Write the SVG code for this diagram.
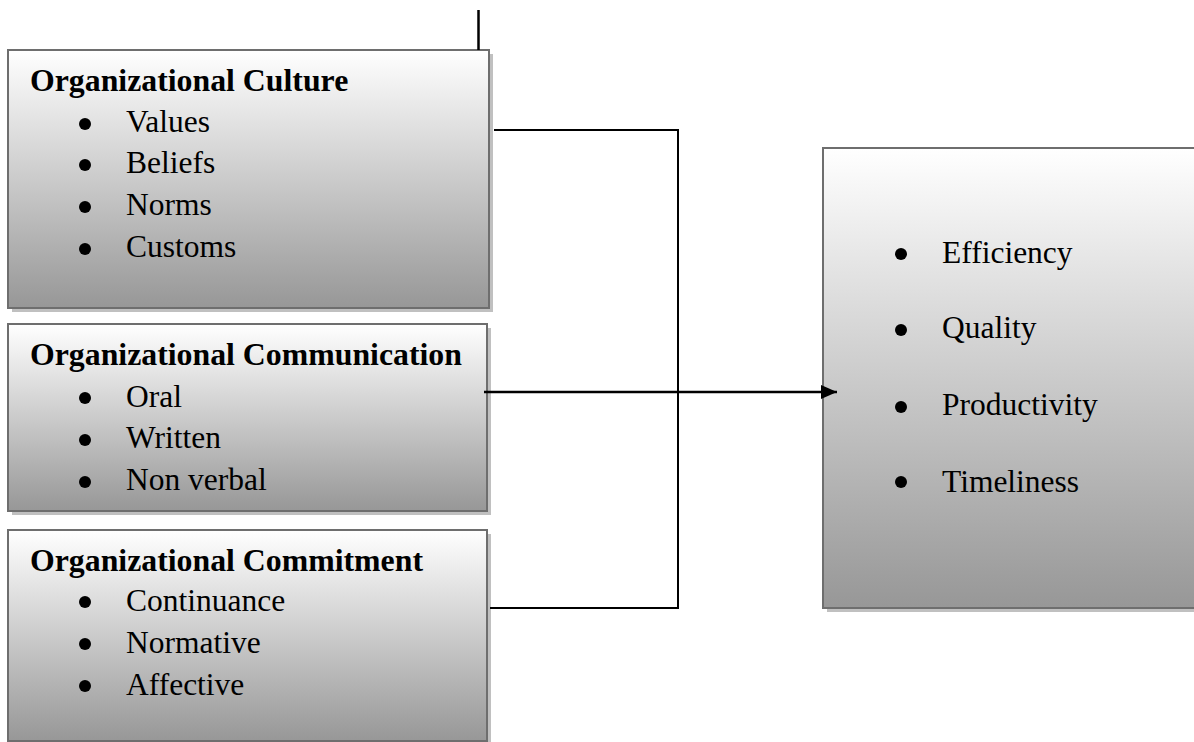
<svg xmlns="http://www.w3.org/2000/svg" width="1194" height="742" viewBox="0 0 1194 742">
<style>
.box{stroke:#6e6e6e;stroke-width:2;fill:url(#g)}
.shadow{fill:#c0c0c0}
.t{font-family:"Liberation Serif","Times New Roman",serif;font-size:31.5px;fill:#000}
.b{font-weight:bold;font-size:31.8px}
.dot{fill:#000}
.line{stroke:#000;stroke-width:2.5;fill:none}
.thin{stroke:#000;stroke-width:2;fill:none}
</style>
<defs>
<linearGradient id="g" x1="0" y1="0" x2="0" y2="1">
<stop offset="0" stop-color="#ffffff"/>
<stop offset="1" stop-color="#979797"/>
</linearGradient>
<marker id="arr" markerWidth="17" markerHeight="14" refX="16" refY="7" orient="auto" markerUnits="userSpaceOnUse">
<path d="M0,0 L16,7 L0,14 Z" fill="#000"/>
</marker>
</defs>
<rect width="1194" height="742" fill="#fff"/>

<g id="node-culture">
<rect class="shadow" x="12" y="54" width="481" height="258"/>
<rect class="box" x="8" y="50" width="481" height="258"/>
<text class="t b" x="30" y="91">Organizational Culture</text>
<circle class="dot" cx="85" cy="124" r="6"/><text class="t" x="126" y="132">Values</text>
<circle class="dot" cx="85" cy="165" r="6"/><text class="t" x="126" y="173">Beliefs</text>
<circle class="dot" cx="85" cy="207" r="6"/><text class="t" x="126" y="215">Norms</text>
<circle class="dot" cx="85" cy="249" r="6"/><text class="t" x="126" y="257">Customs</text>
</g>

<g id="node-communication">
<rect class="shadow" x="12" y="328" width="479" height="187"/>
<rect class="box" x="8" y="324" width="479" height="187"/>
<text class="t b" x="30" y="365">Organizational Communication</text>
<circle class="dot" cx="85" cy="398" r="6"/><text class="t" x="126" y="407">Oral</text>
<circle class="dot" cx="85" cy="440" r="6"/><text class="t" x="126" y="448">Written</text>
<circle class="dot" cx="85" cy="482" r="6"/><text class="t" x="126" y="490">Non verbal</text>
</g>

<g id="node-commitment">
<rect class="shadow" x="12" y="534" width="479" height="212"/>
<rect class="box" x="8" y="530" width="479" height="211"/>
<text class="t b" x="30" y="571">Organizational Commitment</text>
<circle class="dot" cx="85" cy="602" r="6"/><text class="t" x="126" y="611">Continuance</text>
<circle class="dot" cx="85" cy="644" r="6"/><text class="t" x="126" y="653">Normative</text>
<circle class="dot" cx="85" cy="686" r="6"/><text class="t" x="126" y="695">Affective</text>
</g>

<g id="node-performance">
<rect class="shadow" x="827" y="152" width="380" height="460"/>
<rect class="box" x="823" y="148" width="380" height="460"/>
<circle class="dot" cx="901" cy="254" r="6"/><text class="t" x="942" y="263">Efficiency</text>
<circle class="dot" cx="901" cy="330" r="6"/><text class="t" x="942" y="338">Quality</text>
<circle class="dot" cx="901" cy="407" r="6"/><text class="t" x="942" y="415">Productivity</text>
<circle class="dot" cx="901" cy="482" r="6"/><text class="t" x="942" y="492">Timeliness</text>
</g>

<g id="connectors">
<line class="line" x1="478.5" y1="10" x2="478.5" y2="50"/>
<polyline class="thin" points="494,130 678,130 678,608 490,608"/>
<line class="line" x1="484" y1="392" x2="837" y2="392" marker-end="url(#arr)"/>
</g>
</svg>
